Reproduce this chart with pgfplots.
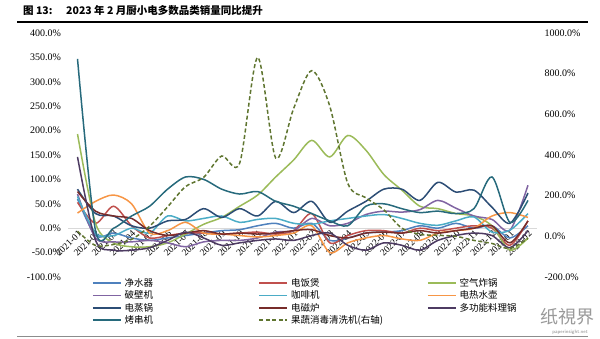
\documentclass[border=0pt]{standalone}
\usepackage{pgfplots}
\pgfplotsset{compat=1.18}
\usepackage{pgfplotstable}
\usepackage{fontspec}
\setmainfont{Liberation Serif}
\newfontfamily\cjk{Noto Sans CJK SC}
\definecolor{cJS}{HTML}{4F81BD}
\definecolor{cFB}{HTML}{C0504D}
\definecolor{cKQ}{HTML}{9BBB59}
\definecolor{cPB}{HTML}{8064A2}
\definecolor{cKF}{HTML}{4BACC6}
\definecolor{cRS}{HTML}{F79646}
\definecolor{cZG}{HTML}{2C4D75}
\definecolor{cCL}{HTML}{772C2A}
\definecolor{cDG}{HTML}{4D3B62}
\definecolor{cKC}{HTML}{276A7C}
\definecolor{cGS}{HTML}{5F7530}
\pgfplotstableread{
x js fb kq pb kf rs zg cl dg kc gs
0 60 53 193 70 65 31 80 75 146 347 25
1 -15 10 10 -20 -10 55 30 35 -25 -5 -45
2 -10 45 -30 -28 -15 68 25 25 -45 0 -40
3 -20 5 -38 -28 0 50 5 20 -45 25 -15
4 -25 -20 -38 -25 -10 -10 0 -5 -40 45 50
5 -20 -15 -30 -30 25 -5 15 -15 -25 80 145
6 -15 -10 -12 -38 15 12 18 -10 -8 105 245
7 -10 -10 8 -28 20 -10 40 -5 -20 100 290
8 -5 -12 22 -25 25 -12 22 -12 -35 80 395
9 -3 -10 45 -25 12 -15 40 -10 -30 70 360
10 5 -8 68 -20 18 -18 25 -12 -25 75 880
11 10 -12 105 -8 20 -15 55 -10 -22 55 385
12 0 -5 140 -5 10 -10 32 -5 -25 45 630
13 10 30 180 20 8 5 55 -3 -15 30 815
14 -25 -30 146 5 15 -50 12 -15 -10 15 640
15 -20 -15 190 10 20 -30 35 -20 -35 5 260
16 -10 -5 160 28 25 -20 55 -10 -45 45 190
17 -8 -5 110 35 28 -15 80 -8 -30 50 130
18 -5 -10 78 33 20 -22 80 -10 -35 40 40
19 5 0 45 38 10 -25 57 -5 -45 32 10
20 0 -5 40 57 6 -10 94 -10 -25 35 5
21 10 0 30 41 15 -5 74 -5 -15 30 0
22 0 5 25 25 23 0 78 0 -10 40 -20
23 5 0 5 18 -8 25 43 5 -15 105 -35
24 -20 -35 -45 -4 -4 32 10 -30 -40 12 -60
25 5 15 -20 88 30 22 72 15 -5 57 -10
}\data
\begin{document}
\begin{tikzpicture}[x=1pt,y=1pt]
\path[use as bounding box] (0,0) rectangle (600,339);
\node[anchor=west, inner sep=0pt, font=\cjk\bfseries\fontsize{10.5}{12}\selectfont] at (23,328) {图 13:\hspace{1.3em}2023 年 2 月厨小电多数品类销量同比提升};
\draw[line width=1.2pt] (17,317) -- (588,317);
\draw[black!45, line width=1pt] (17,2) -- (588,2);
\node[black!40, font=\cjk\fontsize{18}{18}\selectfont, inner sep=0pt] at (567,22) {纸視界};
\node[black!45, font=\sffamily\fontsize{5}{5}\selectfont, inner sep=0pt] at (570,7) {paperinsight.net};
\begin{axis}[at={(68.5pt,62pt)}, anchor=south west, scale only axis,
  width=468.5pt, height=244pt,
  xmin=-0.5, xmax=25.5, ymin=-100, ymax=400,
  axis x line=middle, axis y line=left,
  x axis line style={-, draw=black!15, line width=0.8pt},
  y axis line style={draw=none},
  major tick length=0pt,
  hide obscured x ticks=false, hide obscured y ticks=false,
  xtick={0,...,25},
  xticklabels={2021-01,2021-02,2021-03,2021-04,2021-05,2021-06,2021-07,2021-08,2021-09,2021-10,2021-11,2021-12,2022-01,2022-02,2022-03,2022-04,2022-05,2022-06,2022-07,2022-08,2022-09,2022-10,2022-11,2022-12,2023-01,2023-02},
  xticklabel style={rotate=45, anchor=north east, inner sep=1pt, font=\fontsize{9.5}{10}\selectfont},
  ytick={-100,-50,...,400},
  yticklabel={\pgfmathprintnumber[fixed,fixed zerofill,precision=1,1000 sep={},assume math mode=true]{\tick}\%},
  yticklabel style={font=\fontsize{10}{11}\selectfont, xshift=-4pt},
  every axis plot/.append style={smooth, line width=1.5pt},
  clip=false,
]
\addplot[cJS] table[x=x,y=js]{\data};
\addplot[cFB] table[x=x,y=fb]{\data};
\addplot[cKQ] table[x=x,y=kq]{\data};
\addplot[cPB] table[x=x,y=pb]{\data};
\addplot[cKF] table[x=x,y=kf]{\data};
\addplot[cRS] table[x=x,y=rs]{\data};
\addplot[cZG] table[x=x,y=zg]{\data};
\addplot[cCL] table[x=x,y=cl]{\data};
\addplot[cDG] table[x=x,y=dg]{\data};
\addplot[cKC] table[x=x,y=kc]{\data};
\end{axis}
\begin{axis}[at={(68.5pt,62pt)}, anchor=south west, scale only axis,
  width=468.5pt, height=244pt,
  xmin=-0.5, xmax=25.5, ymin=-200, ymax=1000,
  axis x line=none, axis y line*=right,
  y axis line style={draw=none},
  major tick length=0pt,
  ytick={-200,0,...,1000},
  yticklabel={\pgfmathprintnumber[fixed,fixed zerofill,precision=1,1000 sep={},assume math mode=true]{\tick}\%},
  yticklabel style={font=\fontsize{10}{11}\selectfont, xshift=4pt},
  legend columns=3,
  legend cell align=left,
  legend style={at={(0.0502,0.0006)}, anchor=north west, draw=none, fill=none,
    font=\cjk\fontsize{9.5}{10}\selectfont, inner sep=0pt, row sep=0pt, column sep=0pt,
    nodes={inner sep=0pt, minimum height=12.3pt, anchor=west}},
  legend image code/.code={\draw[#1] (0pt,0pt) -- (28pt,0pt);},
  clip=false,
]
\addlegendimage{cJS, line width=1.5pt}\addlegendentry{\makebox[137pt][l]{\hspace{3pt}净水器}}
\addlegendimage{cFB, line width=1.5pt}\addlegendentry{\makebox[139pt][l]{\hspace{3pt}电饭煲}}
\addlegendimage{cKQ, line width=1.5pt}\addlegendentry{\hspace{3pt}空气炸锅}
\addlegendimage{cPB, line width=1.5pt}\addlegendentry{\makebox[137pt][l]{\hspace{3pt}破壁机}}
\addlegendimage{cKF, line width=1.5pt}\addlegendentry{\makebox[139pt][l]{\hspace{3pt}咖啡机}}
\addlegendimage{cRS, line width=1.5pt}\addlegendentry{\hspace{3pt}电热水壶}
\addlegendimage{cZG, line width=1.5pt}\addlegendentry{\makebox[137pt][l]{\hspace{3pt}电蒸锅}}
\addlegendimage{cCL, line width=1.5pt}\addlegendentry{\makebox[139pt][l]{\hspace{3pt}电磁炉}}
\addlegendimage{cDG, line width=1.5pt}\addlegendentry{\hspace{3pt}多功能料理锅}
\addlegendimage{cKC, line width=1.5pt}\addlegendentry{\makebox[137pt][l]{\hspace{3pt}烤串机}}
\addplot[cGS, smooth, line width=1.5pt, dash pattern=on 4pt off 2.5pt] table[x=x,y=gs]{\data};
\addlegendentry{\makebox[139pt][l]{\hspace{3pt}果蔬消毒清洗机(右轴)}}
\end{axis}
\end{tikzpicture}
\end{document}
